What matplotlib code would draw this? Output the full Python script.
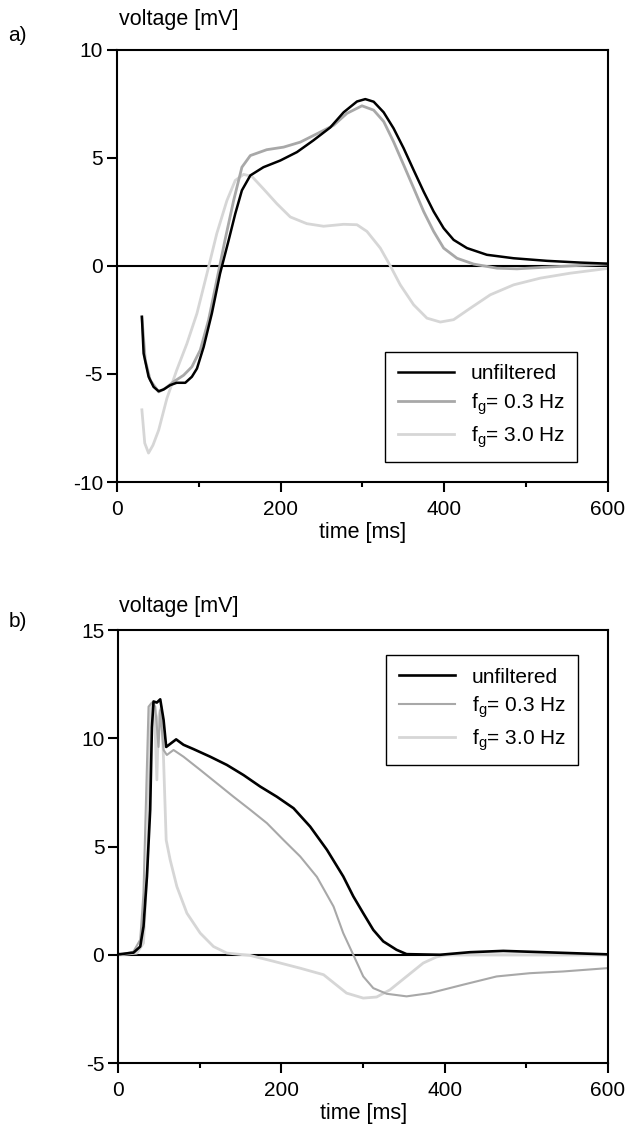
import matplotlib
matplotlib.use("Agg")
import matplotlib.pyplot as plt
from matplotlib.ticker import MultipleLocator

plt.rcParams['font.family'] = ['Liberation Sans', 'DejaVu Sans']
plt.rcParams['axes.unicode_minus'] = False

# panel a) time [ms] / voltage [mV]
a_unf_t = [30.5, 32.6, 38.7, 44.8, 51, 57, 65, 73, 83.5, 91.6, 97.8, 106, 116, 126, 136.5, 144.6, 152.7, 163, 179, 199.6,
           220, 240, 260.7, 277, 293.3, 303.5, 313.7, 325.9, 338, 350.3, 362.5, 374.8, 387, 399.2, 411.4, 427.7, 452,
           484.7, 525.5, 566, 600]
a_unf_v = [-2.36, -4.05, -5.13, -5.6, -5.8, -5.72, -5.52, -5.41, -5.41, -5.13, -4.75, -3.75, -2.2, -0.36, 1.18, 2.41, 3.49,
           4.18, 4.56, 4.87, 5.26, 5.8, 6.4, 7.1, 7.6, 7.71, 7.59, 7.1, 6.36, 5.44, 4.43, 3.43, 2.51, 1.74, 1.2, 0.82, 0.51,
           0.35, 0.23, 0.15, 0.1]
a_f03_t = [30.5, 34.6, 40.7, 51, 59, 69, 81.5, 91.6, 101.8, 112, 122, 132, 142.6, 152.7, 163, 183, 203.7, 224, 244, 264.8,
           281, 299.4, 313.7, 326, 338, 350.3, 362.5, 374.8, 387, 399.2, 415.5, 435.9, 464.4, 488.8, 525.5, 566.2, 600]
a_f03_v = [-2.36, -4.36, -5.29, -5.83, -5.67, -5.37, -5.06, -4.67, -3.9, -2.5, -0.67, 1.18, 3.02, 4.56, 5.1, 5.37, 5.49,
           5.72, 6.1, 6.5, 7.05, 7.4, 7.2, 6.67, 5.74, 4.67, 3.6, 2.51, 1.59, 0.82, 0.35, 0.08, -0.11, -0.14, -0.06, 0.02,
           0.08]
a_f30_t = [30.5, 34, 38.6, 44, 51, 61, 73, 85.5, 97.8, 110, 122, 134.4, 144.6, 154.8, 165, 179, 195.5, 211.8, 232, 252.5,
           277, 293.3, 305.5, 321.8, 334, 346.2, 362.5, 378.8, 395.1, 411.4, 431.8, 456.2, 484.7, 517.3, 554, 600]
a_f30_v = [-6.66, -8.2, -8.66, -8.3, -7.6, -6.14, -4.83, -3.6, -2.2, -0.36, 1.49, 3.02, 3.95, 4.23, 4.13, 3.56, 2.87, 2.26,
           1.95, 1.83, 1.92, 1.9, 1.59, 0.82, 0.0, -0.88, -1.8, -2.42, -2.6, -2.49, -1.96, -1.34, -0.88, -0.57, -0.34, -0.12]

# panel b)
b_unf_t = [0, 2.5, 18.8, 27, 31, 35.2, 39.2, 41.3, 43.3, 47.4, 51.5, 55.6, 58.8, 63.7, 71, 80, 92.3, 112.7, 133.1, 153.6,
           174, 194.4, 214.8, 235.2, 255.7, 275.7, 288, 300.2, 312.5, 324.7, 341, 353.3, 394, 431, 471.7, 520.7, 600]
b_unf_v = [0.03, 0.03, 0.1, 0.38, 1.3, 3.6, 6.7, 10.5, 11.7, 11.65, 11.8, 10.85, 9.6, 9.74, 9.95, 9.7, 9.5, 9.15, 8.77, 8.3,
           7.77, 7.3, 6.77, 5.92, 4.85, 3.62, 2.7, 1.92, 1.15, 0.62, 0.23, 0.03, 0.0, 0.12, 0.18, 0.12, 0.02]
b_f03_t = [0, 2.5, 18.8, 27, 31, 34.3, 37.2, 41.3, 45.4, 49.4, 51.5, 55.6, 59.6, 67.8, 80, 100.5, 120.9, 141.3, 161.7, 182.2,
           202.6, 223, 243.4, 263.8, 275.7, 288, 300.2, 312.5, 328.8, 353.3, 381.9, 422.7, 463.6, 504.4, 545.2, 598.3]
b_f03_v = [0.0, 0.0, 0.15, 0.7, 2.85, 7.46, 11.46, 11.65, 11.46, 9.6, 11.3, 9.46, 9.23, 9.46, 9.15, 8.54, 7.92, 7.3, 6.7,
           6.08, 5.3, 4.54, 3.6, 2.23, 1.0, 0.0, -1.0, -1.54, -1.8, -1.92, -1.77, -1.38, -1.0, -0.85, -0.77, -0.62]
b_f30_t = [0, 2.5, 22.9, 31, 36, 38, 40, 44.1, 47.4, 49.4, 52.7, 55.6, 58.8, 63.7, 71.9, 84.2, 100.5, 116.8, 133.1, 161.7,
           190.3, 223, 251.6, 279.8, 300.2, 316.6, 332.9, 353.3, 373.7, 390, 402.3, 600]
b_f30_v = [0.0, 0.0, 0.08, 0.54, 4.38, 10.5, 11.54, 11.6, 8.08, 11.0, 11.46, 9.0, 5.3, 4.38, 3.15, 1.92, 1.0, 0.38, 0.08,
           -0.03, -0.3, -0.62, -0.92, -1.77, -2.0, -1.95, -1.62, -1.0, -0.38, -0.1, 0.0, 0.0]

labels = ['unfiltered', 'f$_\\mathregular{g}$= 0.3 Hz', 'f$_\\mathregular{g}$= 3.0 Hz']
c_unf, c_f03, c_f30 = 'black', '#a8a8a8', '#d6d6d6'

fig = plt.figure(figsize=(6.32, 11.35), dpi=100)
ax1 = fig.add_axes([0.185, 0.5753, 0.777, 0.381])
ax2 = fig.add_axes([0.187, 0.0634, 0.775, 0.3815])


def style(ax, ylo, yhi):
    ax.set_xlim(0, 600)
    ax.set_ylim(ylo, yhi)
    ax.xaxis.set_major_locator(MultipleLocator(200))
    ax.xaxis.set_minor_locator(MultipleLocator(100))
    ax.yaxis.set_major_locator(MultipleLocator(5))
    ax.tick_params(which='both', direction='out', width=1.5, labelsize=15)
    ax.tick_params(which='major', length=7, pad=3)
    ax.tick_params(axis='x', which='major', pad=6)
    ax.tick_params(which='minor', length=3.5)
    for s in ax.spines.values():
        s.set_linewidth(1.5)
    ax.axhline(0, color='black', lw=1.5, zorder=1)
    ax.set_xlabel('time [ms]', fontsize=15.5, labelpad=2)


def legend(ax, loc, anchor):
    h, l = ax.get_legend_handles_labels()
    leg = ax.legend(h[::-1], l[::-1], loc=loc, bbox_to_anchor=anchor, borderaxespad=0, fontsize=15,
                    fancybox=False, edgecolor='black', framealpha=1, borderpad=0.6, handlelength=2.7,
                    handletextpad=0.8, labelspacing=0.35)
    leg.get_frame().set_linewidth(1.0)


ax1.plot(a_f30_t, a_f30_v, color=c_f30, lw=2.0, label=labels[2])
ax1.plot(a_f03_t, a_f03_v, color=c_f03, lw=2.0, label=labels[1])
ax1.plot(a_unf_t, a_unf_v, color=c_unf, lw=1.8, label=labels[0])
style(ax1, -10, 10)
legend(ax1, 'lower right', (0.937, 0.046))

ax2.plot(b_f30_t, b_f30_v, color=c_f30, lw=2.0, label=labels[2])
ax2.plot(b_f03_t, b_f03_v, color=c_f03, lw=1.5, label=labels[1])
ax2.plot(b_unf_t, b_unf_v, color=c_unf, lw=1.9, label=labels[0])
style(ax2, -5, 15)
legend(ax2, 'upper right', (0.939, 0.942))

fig.text(0.189, 0.983, 'voltage [mV]', fontsize=15.5, va='center')
fig.text(0.013, 0.969, 'a)', fontsize=15, va='center')
fig.text(0.189, 0.466, 'voltage [mV]', fontsize=15.5, va='center')
fig.text(0.013, 0.452, 'b)', fontsize=15, va='center')

fig.savefig('out.png', dpi=100)
